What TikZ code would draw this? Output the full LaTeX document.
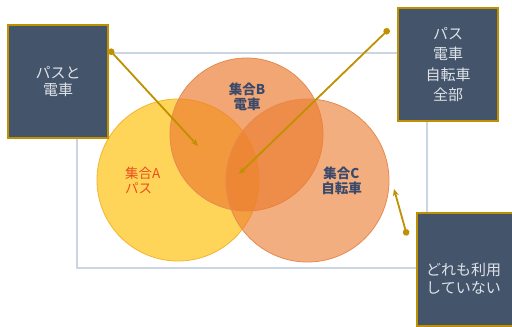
\documentclass[tikz,border=0pt]{standalone}
\usepackage{fontspec}
\setmainfont{Noto Sans CJK JP}
\usetikzlibrary{arrows.meta,calc}
\definecolor{boxfill}{HTML}{44546A}
\definecolor{boxline}{HTML}{BF9000}
\definecolor{boxtext}{HTML}{DDE2E8}
\definecolor{framec}{HTML}{CBD5E4}
\definecolor{setA}{HTML}{FFC000}
\definecolor{setAline}{HTML}{F2B530}
\definecolor{setB}{HTML}{ED7D31}
\definecolor{setBline}{HTML}{E58A50}
\definecolor{navytext}{HTML}{3B4A6B}
\definecolor{redtext}{HTML}{E8501E}
\tikzset{
  callout/.style={draw=boxline, line width=2pt, fill=boxfill, text=boxtext,
    minimum width=100pt, minimum height=113pt, align=center, inner sep=0pt,
    font=\fontsize{15}{18}\selectfont},
  pointer/.style={draw=boxline, line width=1.8pt, {Circle[length=6.5pt]}-{Stealth[length=7pt,width=6pt]}},
  setlabel/.style={font=\bfseries\fontsize{13.5}{15}\selectfont, align=center, inner sep=0pt}
}
\begin{document}
\begin{tikzpicture}[x=1pt,y=-1pt]
\useasboundingbox (0,0) rectangle (512,327);
\fill[white] (0,0) rectangle (512,327);
% frame
\node[draw=framec, line width=1.5pt, minimum width=350pt, minimum height=215pt, inner sep=0pt] (frame) at (252,160.5) {};
% circles
\node[circle, draw=setAline, line width=0.8pt, fill=setA, fill opacity=0.65, minimum size=162pt, inner sep=0pt] (A) at (178,180) {};
\node[circle, draw=setBline, line width=0.8pt, fill=setB, fill opacity=0.68, minimum size=153pt, inner sep=0pt] (B) at (246.5,134.5) {};
\node[circle, draw=setBline, line width=0.8pt, fill=setB, fill opacity=0.62, minimum size=163pt, inner sep=0pt] (C) at (307.5,180.5) {};
% labels
\node[setlabel, text=navytext] (Blab) at (247,96.5) {集合B\\電車};
\node[setlabel, text=redtext, align=left, anchor=west, font=\fontsize{13.5}{15}\selectfont] (Alab) at (125,180) {集合A\\パス};
\node[setlabel, text=navytext] (Clab) at (341.5,180.5) {集合C\\自転車};
% callouts
\node[callout, font=\fontsize{15}{17}\selectfont] (boxL) at (58,81.5) {パスと\\電車};
\node[callout, font=\fontsize{15}{20.3}\selectfont] (boxR) at (448,64.5) {パス\\電車\\自転車\\全部};
\node[callout] (boxN) at (467,269) {};
\node[text=boxtext, align=left, anchor=west, inner sep=0pt, font=\fontsize{15}{18}\selectfont] (boxNtext) at (426,279) {どれも利用\\していない};
% pointer anchors
\coordinate (pL) at ($(boxL.north east)!0.22!(boxL.south east)$);
\coordinate (tL) at (198,146);
\coordinate (pR) at ($(boxR.north west)+(-8,22)$);
\coordinate (tR) at (239,174);
\coordinate (pN) at ($(boxN.north west)+(-9,24)$);
\coordinate (tN) at (394,189);
\draw[pointer] (pL) -- (tL);
\draw[pointer] (pR) -- (tR);
\draw[pointer] (pN) -- (tN);
\end{tikzpicture}
\end{document}
